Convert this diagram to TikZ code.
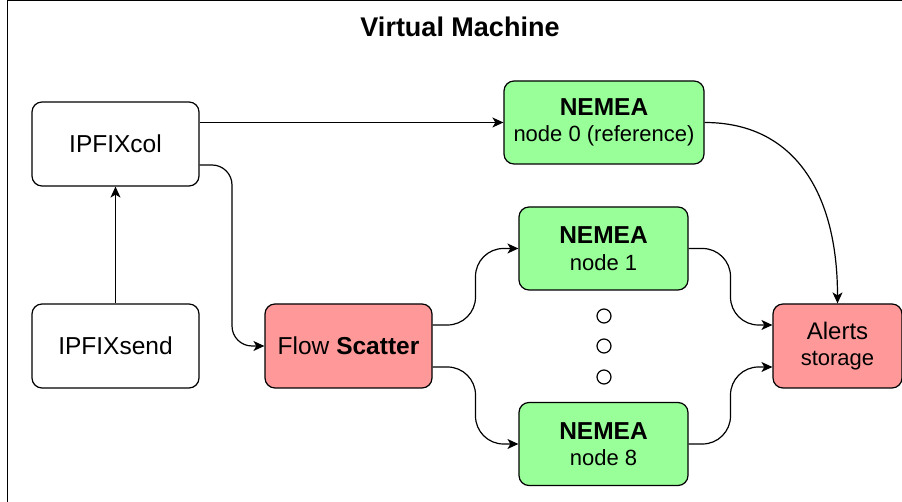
\documentclass[tikz,border=0pt]{standalone}
\usepackage{fontspec}
\setmainfont{Liberation Sans}
\usetikzlibrary{arrows.meta,calc}
\definecolor{nemeagreen}{HTML}{99FF99}
\definecolor{sinkred}{HTML}{FF9999}

\begin{document}
\begin{tikzpicture}[x=1pt,y=1pt,
  box/.style={draw,line width=1.2pt,rounded corners=10pt,minimum width=167pt,minimum height=84pt,
    align=center,inner sep=0pt,font=\fontsize{24.5}{27}\selectfont},
  nemea/.style={box,fill=nemeagreen,minimum height=83pt,font=\fontsize{22}{26.5}\selectfont},
  sink/.style={box,fill=sinkred},
  flow/.style={-{Stealth[length=11pt,width=10pt,inset=3pt]},line width=1.2pt},
  dotnode/.style={circle,draw,line width=1.2pt,minimum size=14pt,inner sep=0pt}]
 \useasboundingbox (0,0) rectangle (902,502);
 \clip (0,0) rectangle (902,502);
 % frame of the virtual machine
 \draw[line width=1pt] (7,-20) rectangle (930,501);
 \node[font=\fontsize{27}{30}\selectfont\bfseries] (title) at (460,475) {Virtual Machine};
 % boxes
 \node[box] (col) at (115.5,358) {IPFIXcol};
 \node[box] (send) at (115.5,156) {IPFIXsend};
 \node[sink] (scatter) at (348.5,156) {Flow \textbf{Scatter}};
 \node[nemea,minimum width=200pt] (n0) at (604,379.5) {{\fontsize{24.5}{26.5}\selectfont\bfseries NEMEA}\\node 0 (reference)};
 \node[nemea,minimum width=169pt] (n1) at (603.5,253.5) {{\fontsize{24.5}{26.5}\selectfont\bfseries NEMEA}\\node 1};
 \node[nemea,minimum width=169pt] (n8) at (603.5,58) {{\fontsize{24.5}{26.5}\selectfont\bfseries NEMEA}\\node 8};
 \node[sink,minimum width=129pt,font=\fontsize{22}{26}\selectfont] (alerts) at (837.5,156) {{\fontsize{24}{26}\selectfont Alerts}\\storage};
 \foreach \y [count=\i] in {186,156,125}
  \node[dotnode] (dot\i) at (604,\y) {};
 % connectors
 \draw[flow] (send) -- (col);
 \draw[flow] (col.east |- n0.west) -- (n0.west);
 \coordinate (colout) at ([yshift=-21pt]col.east);
 \coordinate (m0) at ($(colout)!.5!(scatter.west)$);
 \draw[flow,rounded corners=20pt] (colout) -| (m0 |- scatter.west) -- (scatter.west);
 \coordinate (scup) at ([yshift=21pt]scatter.east);
 \coordinate (scdown) at ([yshift=-21pt]scatter.east);
 \coordinate (m1) at ($(scup)!.5!(n1.west)$);
 \coordinate (m2) at ($(scdown)!.5!(n8.west)$);
 \draw[flow,rounded corners=28pt] (scup) -| (m1 |- n1.west) -- (n1.west);
 \draw[flow,rounded corners=28pt] (scdown) -| (m2 |- n8.west) -- (n8.west);
 \coordinate (alup) at ([yshift=21pt]alerts.west);
 \coordinate (aldown) at ([yshift=-21pt]alerts.west);
 \coordinate (m3) at ($(n1.east)!.5!(alup)$);
 \coordinate (m4) at ($(n8.east)!.5!(aldown)$);
 \draw[flow,rounded corners=28pt] (n1.east) -| (m3 |- alup) -- (alup);
 \draw[flow,rounded corners=28pt] (n8.east) -| (m4 |- aldown) -- (aldown);
 \draw[flow] (n0.east) .. controls +(90,0) and +(0,110) .. (alerts.north);
\end{tikzpicture}
\end{document}
